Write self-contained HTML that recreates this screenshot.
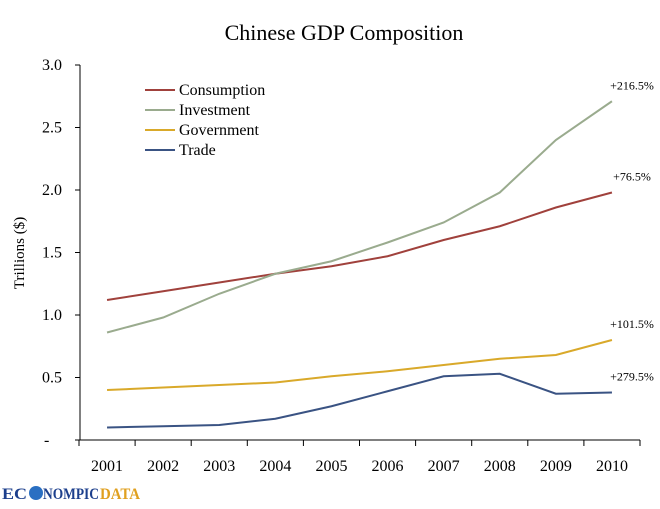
<!DOCTYPE html>
<html><head><meta charset="utf-8"><style>
body{margin:0;background:#fff;}
svg{display:block;font-family:"Liberation Serif",serif;}
</style></head><body>
<svg width="660" height="509">
<text x="344" y="40" text-anchor="middle" font-size="22" fill="#000">Chinese GDP Composition</text>
<text transform="translate(24,253) rotate(-90)" text-anchor="middle" font-size="15">Trillions ($)</text>
<g id="axes"></g>
<g id="series"></g>
<g id="legend"></g>
<g>
<text x="2" y="499" font-size="16" font-weight="bold" fill="#1c3f8c" textLength="25" lengthAdjust="spacingAndGlyphs">EC</text>
<circle cx="36" cy="493" r="7" fill="#2a6fc2"/>
<text x="43" y="499" font-size="16" font-weight="bold" fill="#1c3f8c" textLength="56" lengthAdjust="spacingAndGlyphs">NOMPIC</text>
<text x="100" y="499" font-size="16" font-weight="bold" fill="#e0a020" textLength="40" lengthAdjust="spacingAndGlyphs">DATA</text>
</g>
</svg>
<script>
const years=["2001","2002","2003","2004","2005","2006","2007","2008","2009","2010"];
const yTicks=[0,0.5,1.0,1.5,2.0,2.5,3.0];
const yTickLabels=["-","0.5","1.0","1.5","2.0","2.5","3.0"];
const seriesNames=["Consumption","Investment","Government","Trade"];
const consumption=[1.12,1.19,1.26,1.33,1.39,1.47,1.60,1.71,1.86,1.98];
const investment=[0.86,0.98,1.17,1.33,1.43,1.58,1.74,1.98,2.40,2.71];
const government=[0.40,0.42,0.44,0.46,0.51,0.55,0.60,0.65,0.68,0.80];
const trade=[0.10,0.11,0.12,0.17,0.27,0.39,0.51,0.53,0.37,0.38];
const growthLabels=["+76.5%","+216.5%","+101.5%","+279.5%"];
const NS="http://www.w3.org/2000/svg";
const x0=79,x1=640,y0=440,yTop=65;
const bw=(x1-x0)/years.length;
const xc=i=>x0+bw*(i+0.5);
const ys=v=>y0-(y0-yTop)*v/3;
function mk(t,a,p){const e=document.createElementNS(NS,t);for(const k in a)e.setAttribute(k,a[k]);p.appendChild(e);return e;}
const ax=document.getElementById('axes');
let e=mk('line',{x1:80,y1:yTop,x2:80,y2:y0,stroke:'#000','stroke-width':1},ax);

e=mk('line',{x1:x0,y1:y0,x2:x1,y2:y0,stroke:'#000','stroke-width':1},ax);

yTicks.forEach((v,i)=>{
 const t=mk('line',{x1:75,y1:ys(v),x2:80,y2:ys(v),stroke:'#000'},ax);
 
 const l=mk('text',{x:i==0?44:62,y:ys(v)+5,'text-anchor':i==0?'start':'end','font-size':16},ax);
 l.textContent=yTickLabels[i];
 
});
for(let i=0;i<=years.length;i++){
 const t=mk('line',{x1:x0+bw*i,y1:y0,x2:x0+bw*i,y2:y0+6,stroke:'#000'},ax);
 
}
years.forEach((y,i)=>{
 const l=mk('text',{x:xc(i),y:471,'text-anchor':'middle','font-size':16},ax);
 l.textContent=y;
 
});
const data=[consumption,investment,government,trade];
const colors=["#a0413c","#9aab8e","#d9a92a","#3a5383"];
const sg=document.getElementById('series');
const lg=document.getElementById('legend');
data.forEach((d,s)=>{
 const p=mk('polyline',{points:d.map((v,i)=>xc(i)+','+ys(v)).join(' '),fill:'none',stroke:colors[s],'stroke-width':2},sg);
 
 const lv=d[d.length-1];
 const t=mk('text',{x:632,y:ys(lv)-12,'text-anchor':'middle','font-size':12},sg);
 t.textContent=growthLabels[s];
 
 const ly=90+s*20;
 const ll=mk('line',{x1:145,y1:ly,x2:175,y2:ly,stroke:colors[s],'stroke-width':2},lg);
 
 const lt=mk('text',{x:179,y:ly+5,'font-size':16},lg);
 lt.textContent=seriesNames[s];
 
});
</script>
</body></html>
